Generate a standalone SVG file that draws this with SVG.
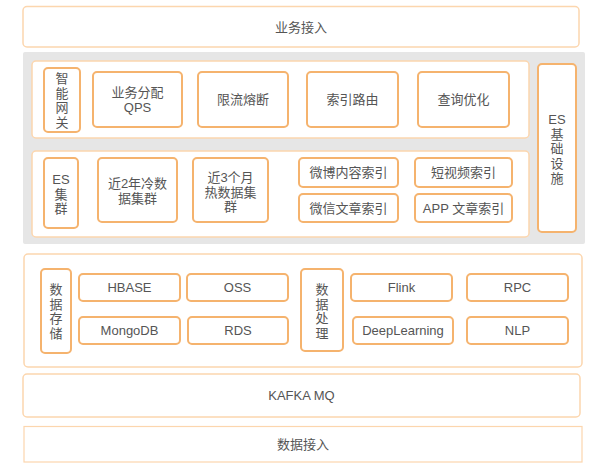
<svg xmlns="http://www.w3.org/2000/svg" width="605" height="465" viewBox="0 0 605 465">
<style>
text{font-family:"Liberation Sans","Noto Sans CJK SC",sans-serif;font-size:13px;fill:#555;text-anchor:middle;dominant-baseline:central}
.panel{fill:#fff;stroke:#fcd6ae;stroke-width:1.5}
.box{fill:#fff;stroke:#f5b36e;stroke-width:2}
.gray{fill:#e6e6e6}
</style>
<rect width="605" height="465" fill="#fff"/>
<g id="top"><rect class="panel" x="23" y="6.5" width="556" height="40.5" rx="4"/><text x="301" y="27">业务接入</text></g>
<rect class="gray" x="23" y="52" width="562" height="192" rx="2"/>
<g id="row1"><rect class="panel" x="32" y="61" width="497" height="77" rx="4"/></g>
<g id="gateway"><rect class="box" x="44" y="68" width="36" height="64" rx="4"/><text x="62" y="78">智<tspan x="62" dy="14.7">能</tspan><tspan x="62" dy="14.7">网</tspan><tspan x="62" dy="14.7">关</tspan></text></g>
<g id="qps"><rect class="box" x="93" y="72" width="89" height="55" rx="4"/><text x="137.5" y="92.5">业务分配<tspan x="137.5" dy="14.7">QPS</tspan></text></g>
<g id="limit"><rect class="box" x="198" y="72" width="90" height="55" rx="4"/><text x="243" y="99.5">限流熔断</text></g>
<g id="route"><rect class="box" x="307" y="72" width="91" height="55" rx="4"/><text x="352.5" y="99.5">索引路由</text></g>
<g id="query"><rect class="box" x="418" y="72" width="91" height="55" rx="4"/><text x="463.5" y="99.5">查询优化</text></g>
<g id="row2"><rect class="panel" x="32" y="151" width="497" height="86" rx="4"/></g>
<g id="escluster"><rect class="box" x="44" y="158" width="34" height="70" rx="4"/><text x="61" y="179">ES<tspan x="61" dy="14.7">集</tspan><tspan x="61" dy="14.7">群</tspan></text></g>
<g id="cold"><rect class="box" x="98" y="158" width="79" height="64" rx="4"/><text x="137.5" y="183">近2年冷数<tspan x="137.5" dy="15">据集群</tspan></text></g>
<g id="hot"><rect class="box" x="193" y="158" width="75" height="64" rx="4"/><text x="230.5" y="177">近3个月<tspan x="230.5" dy="14.7">热数据集</tspan><tspan x="230.5" dy="14.7">群</tspan></text></g>
<g id="weibo"><rect class="box" x="299" y="158" width="99" height="29" rx="4"/><text x="348.5" y="172.5">微博内容索引</text></g>
<g id="weixin"><rect class="box" x="299" y="194" width="99" height="28" rx="4"/><text x="348.5" y="208">微信文章索引</text></g>
<g id="video"><rect class="box" x="415" y="158" width="97" height="29" rx="4"/><text x="463.5" y="172.5">短视频索引</text></g>
<g id="app"><rect class="box" x="415" y="194" width="97" height="28" rx="4"/><text x="463.5" y="208">APP 文章索引</text></g>
<g id="esinfra"><rect class="box" x="538" y="64" width="38" height="168" rx="4"/><text x="557" y="119">ES<tspan x="557" dy="14.7">基</tspan><tspan x="557" dy="14.7">础</tspan><tspan x="557" dy="14.7">设</tspan><tspan x="557" dy="14.7">施</tspan></text></g>
<g id="row3"><rect class="panel" x="24" y="254" width="558" height="113" rx="4"/></g>
<g id="storage"><rect class="box" x="41" y="269" width="30" height="84" rx="4"/><text x="56" y="289">数<tspan x="56" dy="14.7">据</tspan><tspan x="56" dy="14.7">存</tspan><tspan x="56" dy="14.7">储</tspan></text></g>
<g id="hbase"><rect class="box" x="79" y="274" width="101" height="27" rx="4"/><text x="129.5" y="287.5">HBASE</text></g>
<g id="oss"><rect class="box" x="187" y="274" width="101" height="27" rx="4"/><text x="237.5" y="287.5">OSS</text></g>
<g id="mongodb"><rect class="box" x="79" y="317" width="101" height="27" rx="4"/><text x="129.5" y="330.5">MongoDB</text></g>
<g id="rds"><rect class="box" x="188" y="317" width="100" height="27" rx="4"/><text x="238" y="330.5">RDS</text></g>
<g id="processing"><rect class="box" x="301" y="269" width="42" height="82" rx="4"/><text x="322" y="289">数<tspan x="322" dy="14.7">据</tspan><tspan x="322" dy="14.7">处</tspan><tspan x="322" dy="14.7">理</tspan></text></g>
<g id="flink"><rect class="box" x="351" y="274" width="101" height="27" rx="4"/><text x="401.5" y="287.5">Flink</text></g>
<g id="dl"><rect class="box" x="353" y="317" width="100" height="27" rx="4"/><text x="403" y="330.5">DeepLearning</text></g>
<g id="rpc"><rect class="box" x="467" y="274" width="101" height="27" rx="4"/><text x="517.5" y="287.5">RPC</text></g>
<g id="nlp"><rect class="box" x="467" y="317" width="101" height="27" rx="4"/><text x="517.5" y="330.5">NLP</text></g>
<g id="kafka"><rect class="panel" x="23" y="374" width="557" height="43" rx="4"/><text x="301.5" y="395.5">KAFKA MQ</text></g>
<g id="ingest"><rect x="24" y="426.5" width="558" height="35.5" fill="#fff" stroke="#fcd6ae" stroke-width="1.2"/><text x="303" y="444">数据接入</text></g>
<g id="connectors"></g>
</svg>
